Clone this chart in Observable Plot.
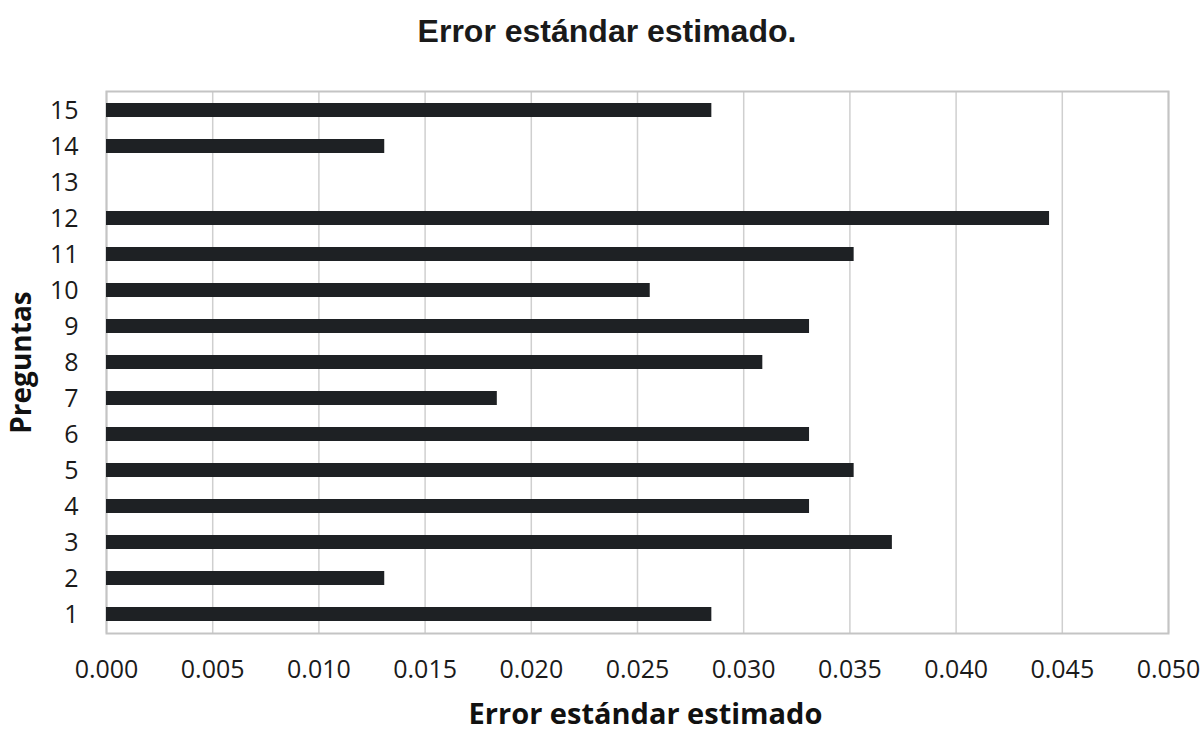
<!DOCTYPE html>
<html>
<head>
<meta charset="utf-8">
<script src="https://cdn.jsdelivr.net/npm/d3@7"></script>
<script src="https://cdn.jsdelivr.net/npm/@observablehq/plot@0.6"></script>
<style>
  html, body { margin: 0; padding: 0; background: #fff; }
  #title { height: 60px; width: 1204px; text-align: center; font-family: "Liberation Sans", Arial, sans-serif; font-weight: bold; font-size: 32px; line-height: 32px; color: #1a1a1a; padding-top: 15px; padding-left: 10px; box-sizing: border-box; white-space: nowrap; }
  #chart svg { display: block; }
</style>
</head>
<body>
<div id="title">Error estándar estimado.</div>
<div id="chart"></div>
<script>
const preguntas = ["1","2","3","4","5","6","7","8","9","10","11","12","13","14","15"];
const errores = [0.0285, 0.0131, 0.0370, 0.0331, 0.0352, 0.0331, 0.0184, 0.0309, 0.0331, 0.0256, 0.0352, 0.0444, 0, 0.0131, 0.0285];
const xTicks = [0, 0.005, 0.010, 0.015, 0.020, 0.025, 0.030, 0.035, 0.040, 0.045, 0.050];

const data = preguntas.map((p, i) => ({pregunta: p, error: errores[i]}));

const chart = Plot.plot({
  width: 1204,
  height: 672,
  marginTop: 31,
  marginBottom: 99,
  marginLeft: 106,
  marginRight: 36,
  style: {fontFamily: "'Open Sans', sans-serif", fontSize: "25px", color: "#1a1a1a", background: "#fff"},
  x: {domain: [0, 0.05], ticks: xTicks, tickFormat: d3.format(".3f"), label: null},
  y: {domain: preguntas.slice().reverse(), paddingInner: 0.6, paddingOuter: 0.3, label: null},
  marks: [
    Plot.gridX(xTicks, {stroke: "#cfcfcf", strokeOpacity: 1, strokeWidth: 1.5}),
    Plot.frame({stroke: "#c4c4c4", strokeWidth: 2}),
    Plot.barX(data, {x: "error", y: "pregunta", fill: "#1e2124"}),
    Plot.axisX({ticks: xTicks, tickFormat: d3.format(".3f"), tickSize: 0, tickPadding: 27, fontSize: 25, label: null}),
    Plot.axisY({tickSize: 0, tickPadding: 28, fontSize: 25, label: null}),
    Plot.text(["Error estándar estimado"], {frameAnchor: "bottom", dy: 90, dx: 8, fontWeight: "bold", fontSize: 29, fill: "#111"}),
    Plot.text(["Preguntas"], {frameAnchor: "left", dx: -84, rotate: -90, textAnchor: "middle", fontWeight: "bold", fontSize: 28, fill: "#111"})
  ]
});
document.getElementById("chart").appendChild(chart);
</script>
</body>
</html>
